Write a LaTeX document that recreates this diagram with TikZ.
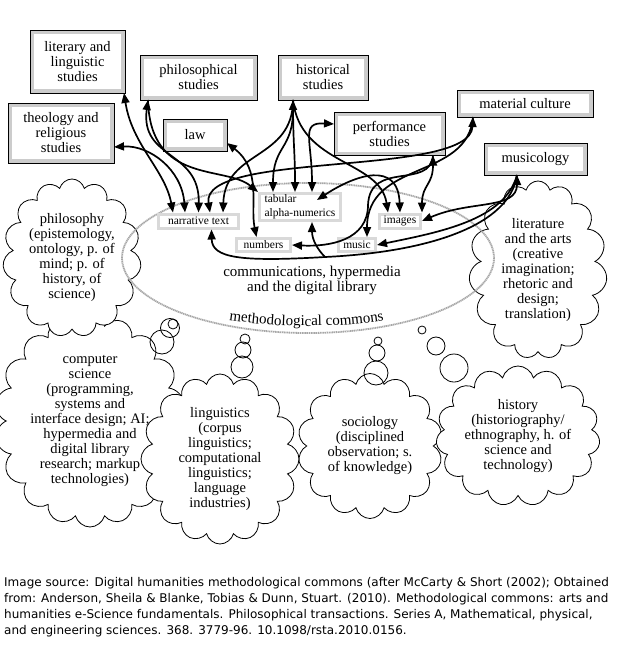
\documentclass[tikz,border=0pt]{standalone}
\usepackage{fontspec}
\setmainfont{Liberation Serif}
\newfontfamily\capfont{DejaVu Sans}
\usetikzlibrary{arrows.meta,shapes.symbols,decorations.text}

\tikzset{
  >={Triangle[length=10pt,width=8pt]},
  discbox/.style={draw=gray!40, line width=4pt, fill=white, inner sep=0pt, align=center,
    font=\fontsize{14.5}{15}\selectfont},
  rim/.style={draw=black, line width=0.9pt},
  databox/.style={draw=gray!30, line width=3pt, fill=white, inner sep=0pt, align=center,
    font=\fontsize{11.5}{14}\selectfont},
  fieldcloud/.style={cloud, cloud ignores aspect, draw, line width=0.8pt, fill=white,
    inner sep=0pt, align=center, font=\fontsize{14.5}{15}\selectfont},
  bubble/.style={draw, line width=0.8pt},
  commons/.style={draw=gray!70, line width=1.8pt, dash pattern=on 1.2pt off 0.6pt},
  link/.style={line width=1.7pt}
}

\begin{document}
\begin{tikzpicture}[x=1pt,y=-1pt]
\useasboundingbox (0,0) rectangle (616,650);

% disciplines round the commons
\node[fieldcloud, cloud puffs=18, minimum width=178pt, minimum height=212pt] (compsci) at (90,421)
  {computer\\science\\(programming,\\systems and\\interface design; AI;\\hypermedia and\\digital library\\research; markup\\technologies)};
\node[fieldcloud, cloud puffs=15, minimum width=130pt, minimum height=158pt] (philo) at (72,258)
  {philosophy\\(epistemology,\\ontology, p. of\\mind; p. of\\history, of\\science)};
\node[fieldcloud, cloud puffs=16, minimum width=158pt, minimum height=170pt] (ling) at (220,459)
  {linguistics\\(corpus\\linguistics;\\computational\\linguistics;\\language\\industries)};
\node[fieldcloud, cloud puffs=14, minimum width=145pt, minimum height=145pt] (socio) at (370,446)
  {sociology\\(disciplined\\observation; s.\\of knowledge)};
\node[fieldcloud, cloud puffs=15, minimum width=163pt, minimum height=140pt] (histcl) at (518,436)
  {history\\(historiography/\\ethnography, h. of\\science and\\technology)};
\node[fieldcloud, cloud puffs=15, minimum width=138pt, minimum height=178pt] (arts) at (538,270)
  {literature\\and the arts\\(creative\\imagination;\\rhetoric and\\design;\\translation)};

% thought bubbles
\draw[bubble] (162,342) circle (12);
\draw[bubble] (170,328) circle (9.5);
\draw[bubble] (173,324) circle (5);
\draw[bubble] (242,367) circle (11);
\draw[bubble] (243,350) circle (8);
\draw[bubble] (245,339) circle (5);
\draw[bubble] (376,373) circle (12);
\draw[bubble] (377,353) circle (8);
\draw[bubble] (378,341) circle (4);
\draw[bubble] (454,368) circle (14);
\draw[bubble] (436,346) circle (9);
\draw[bubble] (422,330) circle (4);

% the commons
\draw[commons] (308,258) ellipse [x radius=186, y radius=75];
\node[font=\fontsize{15}{15}\selectfont, align=center] (hyper) at (312,280)
  {communications, hypermedia\\and the digital library};
\path[decorate, decoration={text along path, text align=center,
  text={|\fontsize{15}{15}\selectfont|methodological commons}}]
  (226,320) .. controls (280,328) and (335,328) .. (387,320);

% studies
\node[discbox, minimum width=91pt, minimum height=59pt] (lit) at (77.5,61.5) {literary and\\linguistic\\studies};
\node[discbox, minimum width=113pt, minimum height=41pt] (phil) at (198.5,77.5) {philosophical\\studies};
\node[discbox, minimum width=86pt, minimum height=41pt] (hist) at (323,77.5) {historical\\studies};
\node[discbox, minimum width=102pt, minimum height=56pt] (theo) at (61,133) {theology and\\religious\\studies};
\node[discbox, minimum width=60pt, minimum height=28pt] (law) at (195,135) {law};
\node[discbox, minimum width=107pt, minimum height=39pt] (perf) at (389.5,134) {performance\\studies};
\node[discbox, minimum width=132pt, minimum height=23pt] (matc) at (525,103.5) {material culture};
\node[discbox, minimum width=99pt, minimum height=28pt] (musi) at (535.5,159) {musicology};
\foreach \b in {lit,phil,hist,theo,law,perf,matc,musi}
  \draw[rim] (\b.north west) rectangle (\b.south east);

% data types
\node[databox, minimum width=80pt, minimum height=14pt] (narr) at (198.5,221) {narrative text};
\node[databox, minimum width=81pt, minimum height=27pt, align=left] (tab) at (300,207) {tabular\\alpha-numerics};
\node[databox, minimum width=54pt, minimum height=13pt] (num) at (263.5,245) {numbers};
\node[databox, minimum width=41pt, minimum height=14pt] (img) at (400,221) {images};
\node[databox, minimum width=37pt, minimum height=13pt] (mus) at (357,245) {music};
\coordinate (dip) at (325,257);

% left group
\draw[link,<->] ([xshift=-1pt]lit.south east) .. controls (132,145) and (165,170) .. ([xshift=-25.5pt]narr.north);
\draw[link,<->] ([yshift=16pt]theo.south east) .. controls (150,145) and (182,170) .. ([xshift=-13.5pt]narr.north);
\draw[link,<->] ([xshift=8pt]phil.south west) .. controls (140,160) and (200,150) .. (narr.north);
\draw[link,->] ([xshift=8pt]phil.south west) .. controls (150,185) and (225,165) .. (tab.north west);
\draw[link,<->] ([yshift=8pt]law.south east) .. controls (262,170) and (250,205) .. ([xshift=-7pt]num.north);

% historical studies
\draw[link,<->] ([xshift=15pt]hist.south west) .. controls (293,150) and (273,145) .. ([xshift=-27pt]tab.north);
\draw[link,->] ([xshift=15pt]hist.south west) .. controls (293,145) and (295,150) .. ([xshift=-5pt]tab.north);
\draw[link,->] ([xshift=15pt]hist.south west) .. controls (293,160) and (225,150) .. ([xshift=24.5pt]narr.north);
\draw[link,->] ([xshift=15pt]hist.south west) .. controls (300,165) and (380,160) .. ([xshift=-12pt]img.north);

% performance studies
\draw[link,<->] ([yshift=10pt]perf.west) .. controls (300,122) and (312,140) .. ([xshift=12pt]tab.north);
\draw[link,<->] ([xshift=-12pt]perf.south east) .. controls (433,185) and (422,185) .. (img.north east);
\draw[link,->] ([xshift=-12pt]perf.south east) .. controls (430,190) and (370,160) .. (368,205)
  .. controls (368,240) and (330,247) .. (num.east);
\draw[link,<->] ([xshift=-25pt,yshift=-8pt]tab.north east) .. controls (355,175) and (398,160) .. (img.north);

% material culture
\draw[link,<->] ([xshift=16pt]matc.south west) .. controls (470,178) and (200,150) .. ([xshift=11.5pt]narr.north);
\draw[link,->] ([xshift=16pt]matc.south west) .. controls (468,180) and (367,160) .. ([xshift=10pt]mus.north);

% musicology
\draw[link,<->] ([xshift=33pt]musi.south west) .. controls (517,210) and (470,200) .. (img.east);
\draw[link,->] ([xshift=33pt]musi.south west) .. controls (505,220) and (440,232) .. (mus.east);
\draw[link,->] ([xshift=33pt]musi.south west) .. controls (510,225) and (430,252) .. (dip)
  .. controls (240,262) and (212,258) .. ([xshift=13pt]narr.south);
\draw[link,->] (dip) .. controls (318,250) and (312,240) .. ([xshift=12pt]tab.south);

% source
\node[anchor=north west, align=left, inner sep=0pt, font=\capfont\fontsize{12}{16}\selectfont] (source) at (4,577)
  {Image source: Digital humanities methodological commons (after McCarty \& Short (2002); Obtained\\
   from: Anderson, Sheila \& Blanke, Tobias \& Dunn, Stuart. (2010). Methodological commons: arts and\\
   humanities e-Science fundamentals. Philosophical transactions. Series A, Mathematical, physical,\\
   and engineering sciences. 368. 3779-96. 10.1098/rsta.2010.0156.};
\end{tikzpicture}
\end{document}
